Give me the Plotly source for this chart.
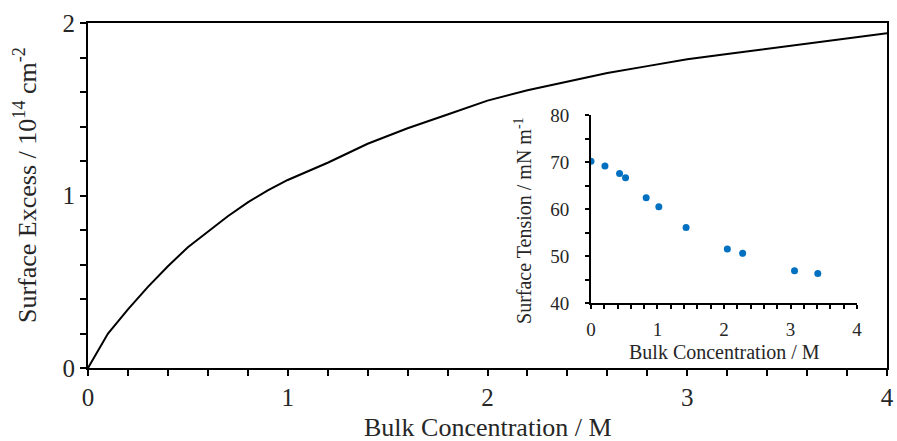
import plotly.graph_objects as go

# Main curve: surface excess vs bulk concentration
conc_main = [0, 0.1, 0.2, 0.3, 0.4, 0.5, 0.6, 0.7, 0.8, 0.9, 1.0, 1.2, 1.4, 1.6, 1.8,
             2.0, 2.2, 2.4, 2.6, 2.8, 3.0, 3.2, 3.4, 3.6, 3.8, 4.0]
surface_excess = [0, 0.20, 0.34, 0.47, 0.59, 0.70, 0.79, 0.88, 0.96, 1.03, 1.09, 1.19,
                  1.30, 1.39, 1.47, 1.55, 1.61, 1.66, 1.71, 1.75, 1.79, 1.82, 1.85,
                  1.88, 1.91, 1.94]

# Inset: surface tension vs bulk concentration
conc_inset = [0, 0.21, 0.43, 0.52, 0.83, 1.02, 1.43, 2.05, 2.28, 3.06, 3.41]
surface_tension = [70.2, 69.2, 67.6, 66.7, 62.4, 60.5, 56.1, 51.5, 50.6, 46.9, 46.3]

FONT = "Liberation Serif, Times New Roman, serif"
TXT = "#262626"

fig = go.Figure()
fig.add_trace(go.Scatter(x=conc_main, y=surface_excess, mode="lines",
                         line=dict(color="black", width=2), showlegend=False,
                         xaxis="x", yaxis="y"))
fig.add_trace(go.Scatter(x=conc_inset, y=surface_tension, mode="markers",
                         marker=dict(color="#0070C0", size=7), showlegend=False,
                         xaxis="x2", yaxis="y2"))

main_axis = dict(showgrid=False, zeroline=False, showline=True, linecolor="black",
                 linewidth=2, mirror=True, ticks="outside", ticklen=6, tickwidth=2,
                 tickcolor="black", automargin=False,
                 tickfont=dict(family=FONT, size=25, color=TXT))
inset_axis = dict(showgrid=False, zeroline=False, showline=True, linecolor="black",
                  linewidth=2, ticks="outside", ticklen=4, tickwidth=2, tickcolor="black",
                  automargin=False, tickfont=dict(family=FONT, size=19, color=TXT))

fig.update_layout(
    width=897, height=441,
    margin=dict(l=88, r=10, t=23, b=73),
    paper_bgcolor="white", plot_bgcolor="white",
    font=dict(family=FONT, color=TXT),
    xaxis=dict(main_axis, range=[0, 4], dtick=1, tick0=0,
               minor=dict(dtick=0.2, ticks="outside", ticklen=6, tickwidth=2, tickcolor="black"),
               ticklabelstandoff=0),
    yaxis=dict(main_axis, range=[0, 2], dtick=1, tick0=0,
               minor=dict(dtick=0.2, ticks="outside", ticklen=6, tickwidth=2, tickcolor="black"),
               ticklabelstandoff=0),
    xaxis2=dict(inset_axis, domain=[0.6295, 0.9625], anchor="y2", range=[0, 4], dtick=1, tick0=0,
                minor=dict(dtick=0.2, ticks="outside", ticklen=4, tickwidth=2, tickcolor="black"),
                ticklabelstandoff=4),
    yaxis2=dict(inset_axis, domain=[0.188, 0.733], anchor="x2", range=[40, 80], dtick=10, tick0=40,
                minor=dict(dtick=5, ticks="outside", ticklen=4, tickwidth=2, tickcolor="black"),
                ticklabelstandoff=12),
    annotations=[
        dict(text="Bulk Concentration / M", xref="paper", yref="paper", x=0.5, y=-0.172,
             xanchor="center", yanchor="middle", showarrow=False,
             font=dict(family=FONT, size=26, color=TXT)),
        dict(text="Surface Excess / 10<sup>14</sup> cm<sup>-2</sup>", xref="paper", yref="paper",
             x=-0.079, y=0.53, xanchor="center", yanchor="middle", textangle=-90, showarrow=False,
             font=dict(family=FONT, size=26, color=TXT)),
        dict(text="Bulk Concentration / M", xref="paper", yref="paper", x=0.796, y=0.046,
             xanchor="center", yanchor="middle", showarrow=False,
             font=dict(family=FONT, size=20, color=TXT)),
        dict(text="Surface Tension / mN m<sup>-1</sup>", xref="paper", yref="paper",
             x=0.5444, y=0.429, xanchor="center", yanchor="middle", textangle=-90, showarrow=False,
             font=dict(family=FONT, size=20, color=TXT)),
    ],
)

fig.write_html("out.html", config={"displayModeBar": False},
               post_script="document.body.style.margin='0';")
